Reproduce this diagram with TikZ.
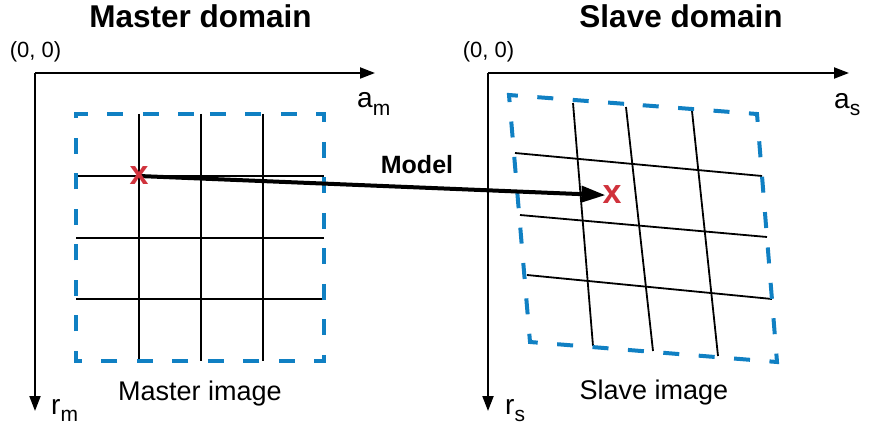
\documentclass[tikz,border=0pt]{standalone}
\usepackage{fontspec}
\setmainfont{Liberation Sans}
\usetikzlibrary{arrows.meta}
\definecolor{boxblue}{RGB}{16,128,195}
\definecolor{markred}{RGB}{208,50,60}
\pgfdeclarelayer{front}
\pgfsetlayers{main,front}
\tikzset{
  axisline/.style={line width=2pt,-{Triangle[length=15pt,width=11pt]}},
  gridline/.style={line width=1.8pt},
  imgbox/.style={line width=4pt,boxblue,dash pattern=on 16pt off 19.5pt},
  title/.style={font=\fontsize{31.5}{36}\selectfont\bfseries,anchor=base,inner sep=0pt},
  lbl/.style={font=\fontsize{27}{30}\selectfont,anchor=base,inner sep=0pt},
  origin/.style={font=\fontsize{22}{26}\selectfont,anchor=base,inner sep=0pt},
  axlbl/.style={font=\fontsize{28}{30}\selectfont,anchor=base west,inner sep=0pt},
  redx/.style={font=\fontsize{34}{36}\selectfont\bfseries,text=markred,inner sep=0pt},
  modelarrow/.style={line width=4pt,-{Triangle[length=24pt,width=16pt]},shorten >=-3pt},
}
\newcommand{\subtxt}[1]{\raisebox{-7pt}{\fontsize{21}{24}\selectfont #1}}
\begin{document}
\begin{tikzpicture}[x=1pt,y=-1pt]
\useasboundingbox (0,0) rectangle (869,433);

% titles
\node[title] (tm) at (200.5,28) {Master domain};
\node[title] (ts) at (681,28) {Slave domain};

% ---------- master domain ----------
\coordinate (om) at (35,73);
\coordinate (amEnd) at (375,73);
\coordinate (rmEnd) at (35,411);
\draw[axisline] (om) -- (amEnd);
\draw[axisline] (om) -- (rmEnd);
\node[origin] (o1) at (35.5,57.5) {(0, 0)};
\node[axlbl] (am) at (357,108) {a\subtxt{m}};
\node[axlbl] (rm) at (51,414) {r\subtxt{m}};

% grid
\draw[gridline] (139,114) -- (139,361);
\draw[gridline] (201,114) -- (201,361);
\draw[gridline] (263,114) -- (263,361);
\draw[gridline] (76,176) -- (324,176);
\draw[gridline] (76,238) -- (324,238);
\draw[gridline] (76,299) -- (324,299);
% dashed box
\draw[imgbox,dash phase=25.75pt] (200,114) -- (324,114) -- (324,361) -- (76,361) -- (76,114) -- cycle;
\node[lbl] (mi) at (200,400) {Master image};

% ---------- slave domain ----------
\coordinate (os) at (488,73);
\coordinate (asEnd) at (849,73);
\coordinate (rsEnd) at (488,411);
\draw[axisline] (os) -- (asEnd);
\draw[axisline] (os) -- (rsEnd);
\node[origin] (o2) at (488.5,57.5) {(0, 0)};
\node[axlbl] (as) at (834,109) {a\subtxt{s}};
\node[axlbl] (rs) at (505,414) {r\subtxt{s}};

% grid
\draw[gridline] (515,153) -- (762,176);
\draw[gridline] (520,215) -- (767,237);
\draw[gridline] (527,275) -- (772,299);
\draw[gridline] (573,103) -- (593,346);
\draw[gridline] (626,107) -- (653,351);
\draw[gridline] (692,111) -- (718,356);
% dashed box
\draw[imgbox,dash phase=25.75pt] (633,104.5) -- (757,114) -- (777,362) -- (530,342) -- (509,95) -- cycle;
\node[lbl] (si) at (654,399) {Slave image};

% ---------- model ----------
\begin{pgfonlayer}{front}
\node[redx] (xm) at (139,176) {x};
\node[redx] (xs) at (612,195) {x};
\end{pgfonlayer}
\draw[modelarrow] (xm.center) -- (xs.west);
\node[font=\fontsize{25}{30}\selectfont\bfseries,anchor=base,inner sep=0pt] (model) at (417,173) {Model};
\end{tikzpicture}
\end{document}
